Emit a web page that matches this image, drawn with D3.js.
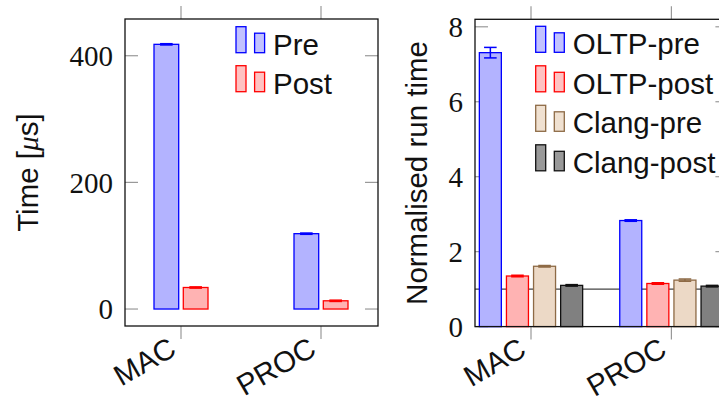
<html>
<head>
  <script src="https://cdn.jsdelivr.net/npm/d3@7"></script>
  <style>
    body { margin: 0; background: #fff; }
    text { fill: #111; }
  </style>
</head>
<body>
<svg width="719" height="396"></svg>
<script>
  // data
  var groups = ["MAC", "PROC"];

  var timeSeries = ["Pre", "Post"];
  var timePre = [418, 119];
  var timePreErr = [1, 1];
  var timePost = [34, 13];
  var timePostErr = [1, 1];
  var timeTicks = [0, 200, 400];

  var normSeries = ["OLTP-pre", "OLTP-post", "Clang-pre", "Clang-post"];
  var oltpPre = [7.31, 2.83];
  var oltpPreErr = [0.14, 0.02];
  var oltpPost = [1.35, 1.15];
  var oltpPostErr = [0.02, 0.02];
  var clangPre = [1.61, 1.24];
  var clangPreErr = [0.02, 0.03];
  var clangPost = [1.10, 1.08];
  var clangPostErr = [0.02, 0.02];
  var normTicks = [0, 2, 4, 6, 8];

  var styles = {
    "Pre":        { fill: "#b3b3ff", stroke: "#0000ff" },
    "Post":       { fill: "#ffb3b3", stroke: "#ff0000" },
    "OLTP-pre":   { fill: "#b3b3ff", stroke: "#0000ff" },
    "OLTP-post":  { fill: "#ffb3b3", stroke: "#ff0000" },
    "Clang-pre":  { fill: "#ecd9c6", stroke: "#8d6a45" },
    "Clang-post": { fill: "#808080", stroke: "#111111" }
  };

  var SANS = "'Liberation Sans', Arial, sans-serif";
  var SERIF = "'Liberation Serif', 'Times New Roman', serif";

  var svg = d3.select("svg");

  function drawPanel(p) {
    var g = svg.append("g");
    var x = d3.scalePoint().domain(groups).range([p.left + 56, p.right - 57]);
    var y = d3.scaleLinear().domain(p.yDomain).range([p.bottom, p.top]);

    // x ticks, outside top and bottom
    groups.forEach(function(c) {
      g.append("line").attr("x1", x(c)).attr("x2", x(c))
        .attr("y1", p.top - 13).attr("y2", p.top)
        .attr("stroke", "#999").attr("stroke-width", 1.2);
      g.append("line").attr("x1", x(c)).attr("x2", x(c))
        .attr("y1", p.bottom).attr("y2", p.bottom + 13)
        .attr("stroke", "#999").attr("stroke-width", 1.2);
      g.append("text")
        .attr("transform", "translate(" + (x(c) - 3) + "," + (p.bottom + 28) + ") rotate(-30)")
        .attr("text-anchor", "end")
        .style("font-family", SANS).style("font-size", "29.5px")
        .text(c);
    });

    // y ticks, inside left and right
    p.ticks.forEach(function(t) {
      g.append("line").attr("x1", p.left).attr("x2", p.left + 13)
        .attr("y1", y(t)).attr("y2", y(t))
        .attr("stroke", "#999").attr("stroke-width", 1.2);
      g.append("line").attr("x1", p.right - 13).attr("x2", p.right)
        .attr("y1", y(t)).attr("y2", y(t))
        .attr("stroke", "#999").attr("stroke-width", 1.2);
      g.append("text")
        .attr("x", p.left - 12).attr("y", y(t))
        .attr("dy", "0.36em")
        .attr("text-anchor", "end")
        .style("font-family", SERIF).style("font-size", "29px")
        .text(t);
    });

    if (p.refLine != null) {
      g.append("line").attr("x1", p.left).attr("x2", p.right)
        .attr("y1", y(p.refLine)).attr("y2", y(p.refLine))
        .attr("stroke", "#444").attr("stroke-width", 1.4);
    }

    // bars with error bars
    var n = p.series.length;
    var base = y(Math.max(0, p.yDomain[0]));
    p.series.forEach(function(s, i) {
      var off = (i - (n - 1) / 2) * p.step;
      var st = styles[s];
      p.values[i].forEach(function(v, j) {
        var cx = x(groups[j]) + off;
        g.append("rect")
          .attr("x", cx - p.barW / 2).attr("width", p.barW)
          .attr("y", y(v)).attr("height", base - y(v))
          .attr("fill", st.fill).attr("stroke", st.stroke).attr("stroke-width", 1.3);
        var e = p.errors[i][j];
        var eg = g.append("g").attr("stroke", st.stroke).attr("stroke-width", 1.5);
        eg.append("line").attr("x1", cx).attr("x2", cx).attr("y1", y(v + e)).attr("y2", y(v - e));
        eg.append("line").attr("x1", cx - 6.3).attr("x2", cx + 6.3).attr("y1", y(v + e)).attr("y2", y(v + e));
        eg.append("line").attr("x1", cx - 6.3).attr("x2", cx + 6.3).attr("y1", y(v - e)).attr("y2", y(v - e));
      });
    });

    // frame
    g.append("rect")
      .attr("x", p.left).attr("y", p.top)
      .attr("width", p.right - p.left).attr("height", p.bottom - p.top)
      .attr("fill", "none").attr("stroke", "#111").attr("stroke-width", 1.3);

    // y label
    var lab = g.append("text")
      .attr("transform", "translate(" + p.labelX + "," + ((p.top + p.bottom) / 2) + ") rotate(-90)")
      .attr("text-anchor", "middle")
      .style("font-family", SANS).style("font-size", "29.5px");
    p.label(lab);

    // legend
    p.series.forEach(function(s, i) {
      var st = styles[s];
      var by = p.legY + i * p.legStep;
      g.append("rect").attr("x", p.legX).attr("y", by - 26).attr("width", 10).attr("height", 26)
        .attr("fill", st.fill).attr("fill-opacity", 0.8)
        .attr("stroke", st.stroke).attr("stroke-width", 1.3);
      g.append("rect").attr("x", p.legX + 18.6).attr("y", by - 19.5).attr("width", 10).attr("height", 19.5)
        .attr("fill", st.fill).attr("fill-opacity", 0.8)
        .attr("stroke", st.stroke).attr("stroke-width", 1.3);
      g.append("text").attr("x", p.legX + 37).attr("y", by + 2)
        .style("font-family", SANS).style("font-size", "29.5px")
        .text(s);
    });
  }

  drawPanel({
    left: 125, right: 378, top: 19, bottom: 326,
    yDomain: [-26.8, 458], ticks: timeTicks,
    series: timeSeries, values: [timePre, timePost],
    errors: [timePreErr, timePostErr],
    barW: 24.7, step: 29.3,
    labelX: 37.5,
    label: function(t) {
      t.append("tspan").text("Time [");
      t.append("tspan").style("font-family", SERIF).style("font-style", "italic").text("\u03bc");
      t.append("tspan").text("s]");
    },
    legX: 236, legY: 52.7, legStep: 39
  });

  drawPanel({
    left: 475, right: 728.4, top: 19.3, bottom: 326.6,
    yDomain: [0, 8.2], ticks: normTicks, refLine: 1,
    series: normSeries,
    values: [oltpPre, oltpPost, clangPre, clangPost],
    errors: [oltpPreErr, oltpPostErr, clangPreErr, clangPostErr],
    barW: 22, step: 27.1,
    labelX: 426.7,
    label: function(t) { t.text("Normalised run time"); },
    legX: 535.7, legY: 52.3, legStep: 39.5
  });
</script>
</body>
</html>
